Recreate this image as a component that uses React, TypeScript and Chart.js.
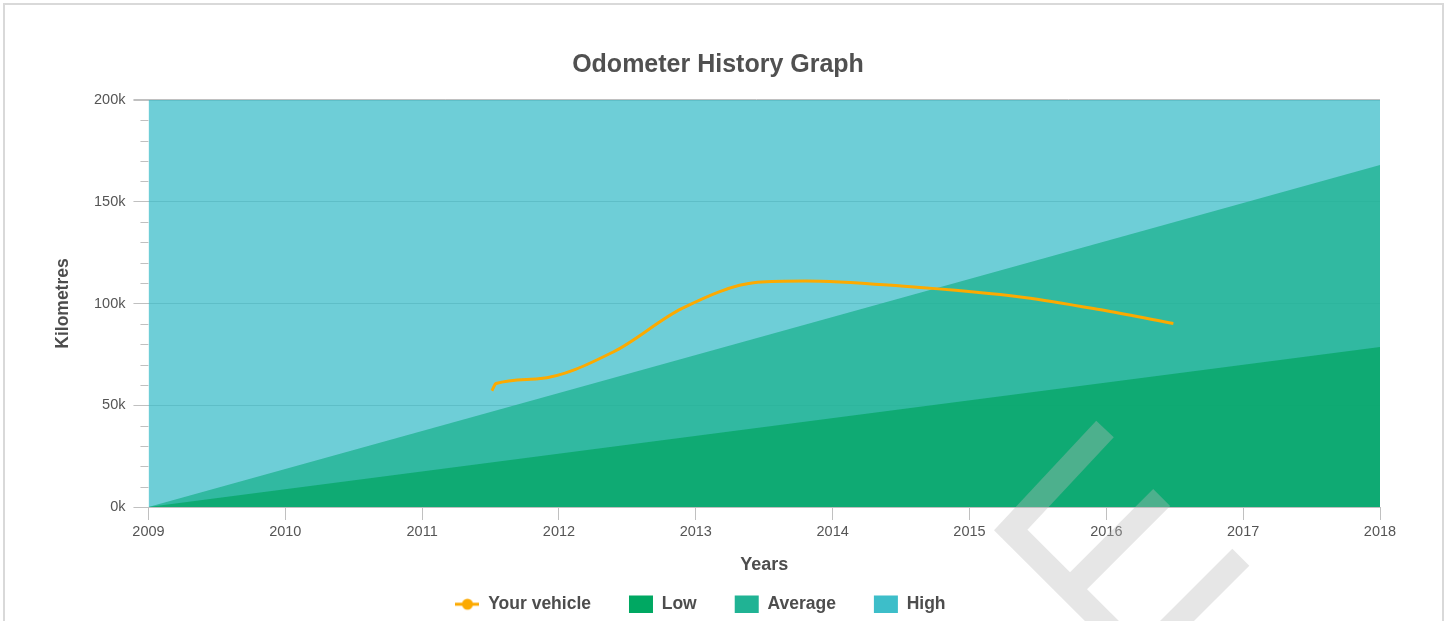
import { useEffect, useRef } from 'react';
import { Chart, registerables } from 'chart.js';

Chart.register(...registerables);

// ---- data ----
const areaYears = [2009, 2018];
const lowKm = [0, 78600];
const averageKm = [0, 168000];
const highKm = [200000, 200000];

const vehicleYears = [2011.51, 2011.54, 2011.85, 2012.4, 2012.9, 2013.45, 2013.8, 2014.5, 2015.4, 2016.0, 2016.49];
const vehicleKm = [57100, 60700, 63000, 76300, 97600, 110400, 111100, 108600, 103000, 96400, 90200];

const yearTicks = [2009, 2010, 2011, 2012, 2013, 2014, 2015, 2016, 2017, 2018];
const kmTicks = [0, 50000, 100000, 150000, 200000];
const kmMinorTicks = [10000, 20000, 30000, 40000, 60000, 70000, 80000, 90000, 110000, 120000, 130000, 140000, 160000, 170000, 180000, 190000];

const seriesNames = ['Your vehicle', 'Low', 'Average', 'High'];
const legendColors = ['#fcaa00', '#00a862', '#20b394', '#3dbec9'];

const FONT = "'Liberation Sans', Arial, sans-serif";

const toPoints = (xs: number[], ys: number[]) => xs.map((x, i) => ({ x, y: ys[i] }));

export default function App() {
  const ref = useRef<HTMLCanvasElement | null>(null);

  useEffect(() => {
    const canvas = ref.current;
    if (!canvas) return;

    const icon = document.createElement('canvas');
    icon.width = 24;
    icon.height = 18;
    const ic = icon.getContext('2d')!;
    ic.strokeStyle = legendColors[0];
    ic.lineWidth = 3;
    ic.beginPath();
    ic.moveTo(0, 9);
    ic.lineTo(24, 9);
    ic.stroke();
    ic.fillStyle = legendColors[0];
    ic.beginPath();
    ic.arc(12, 9, 5.5, 0, Math.PI * 2);
    ic.fill();

    const boxShift = {
      id: 'boxShift',
      afterLayout(chart: any) {
        const lg = chart.legend;
        if (lg) {
          lg.top += -18;
          lg.bottom += -18;
          lg.left += 8;
          lg.right += 8;
        }
        const tt = chart.titleBlock;
        if (tt) {
          tt.left += 25.5;
          tt.right += 25.5;
        }
      },
    };

    const minorTicks = {
      id: 'minorTicks',
      afterDraw(chart: any) {
        const y = chart.scales.y;
        const ctx = chart.ctx;
        const left = chart.chartArea.left;
        ctx.save();
        ctx.strokeStyle = '#c0c0c0';
        ctx.lineWidth = 1;
        ctx.beginPath();
        kmMinorTicks.forEach((v) => {
          const py = Math.round(y.getPixelForValue(v)) + 0.5;
          ctx.moveTo(left - 8, py);
          ctx.lineTo(left, py);
        });
        ctx.stroke();
        // grey frame line along the top of the plot (200k)
        const top = Math.round(chart.chartArea.top) - 0.5;
        ctx.beginPath();
        ctx.moveTo(left - 15, top);
        ctx.lineTo(chart.chartArea.right, top);
        ctx.stroke();
        ctx.restore();
      },
    };

    const watermark = {
      id: 'watermark',
      afterDraw(chart: any) {
        const ctx = chart.ctx;
        ctx.save();
        ctx.strokeStyle = 'rgba(185,185,185,0.36)';
        ctx.lineWidth = 24;
        ctx.lineCap = 'butt';
        ctx.lineJoin = 'miter';
        ctx.beginPath();
        ctx.moveTo(1100, 424);
        ctx.lineTo(1005.7, 525);
        ctx.lineTo(1135, 654);
        ctx.moveTo(1156.7, 492.5);
        ctx.lineTo(1065, 584.3);
        ctx.moveTo(1235.8, 552.2);
        ctx.lineTo(1134.4, 653.6);
        ctx.stroke();
        ctx.restore();
      },
    };

    const chart = new Chart(canvas, {
      type: 'line',
      data: {
        datasets: [
          {
            label: seriesNames[0],
            data: toPoints(vehicleYears, vehicleKm),
            borderColor: legendColors[0],
            borderWidth: 3,
            pointRadius: 0,
            fill: false,
            cubicInterpolationMode: 'monotone',
          },
          {
            label: seriesNames[1],
            data: toPoints(areaYears, lowKm),
            backgroundColor: 'rgba(4,166,100,0.75)',
            borderWidth: 0,
            borderColor: 'rgba(0,0,0,0)',
            pointRadius: 0,
            fill: 'origin',
          },
          {
            label: seriesNames[2],
            data: toPoints(areaYears, averageKm),
            backgroundColor: 'rgba(29,177,143,0.75)',
            borderWidth: 0,
            borderColor: 'rgba(0,0,0,0)',
            pointRadius: 0,
            fill: 'origin',
          },
          {
            label: seriesNames[3],
            data: toPoints(areaYears, highKm),
            backgroundColor: 'rgba(61,190,201,0.75)',
            borderWidth: 0,
            borderColor: 'rgba(0,0,0,0)',
            pointRadius: 0,
            fill: 'origin',
          },
        ],
      },
      options: {
        responsive: false,
        animation: false,
        devicePixelRatio: 1,
        layout: { padding: { left: 0, right: 62, top: 0, bottom: 0 } },
        plugins: {
          tooltip: { enabled: false },
          title: {
            display: true,
            text: 'Odometer History Graph',
            color: '#505050',
            font: { family: FONT, size: 25, weight: 'bold' },
            padding: { top: 45, bottom: 20 },
          },
          legend: {
            display: true,
            position: 'bottom',
            onClick: () => {},
            labels: {
              usePointStyle: true,
              pointStyleWidth: 24,
              boxHeight: 18,
              padding: 38,
              color: '#4d4d4d',
              font: { family: FONT, size: 17.5, weight: 'bold' },
              generateLabels: () =>
                seriesNames.map((name, i) => ({
                  text: name,
                  fillStyle: legendColors[i],
                  strokeStyle: 'rgba(0,0,0,0)',
                  lineWidth: 0,
                  pointStyle: i === 0 ? icon : 'rect',
                  hidden: false,
                  datasetIndex: i,
                  fontColor: '#4d4d4d',
                })),
            },
          },
        },
        scales: {
          x: {
            type: 'linear',
            min: 2009,
            max: 2018,
            z: 1,
            afterBuildTicks: (scale: any) => {
              scale.ticks = yearTicks.map((v) => ({ value: v }));
            },
            ticks: {
              color: '#555',
              font: { family: FONT, size: 14.5 },
              padding: 3,
              autoSkip: false,
              maxRotation: 0,
              callback: (v: any) => String(v),
            },
            grid: {
              display: true,
              drawOnChartArea: false,
              drawTicks: true,
              tickLength: 13,
              tickColor: '#c0c0c0',
            },
            border: { display: true, color: '#c0c0c0', width: 1 },
            title: {
              display: true,
              text: 'Years',
              color: '#4d4d4d',
              font: { family: FONT, size: 18, weight: 'bold' },
              padding: { top: 10.5, bottom: 0 },
            },
          },
          y: {
            type: 'linear',
            min: 0,
            max: 200000,
            afterBuildTicks: (scale: any) => {
              scale.ticks = kmTicks.map((v) => ({ value: v }));
            },
            ticks: {
              color: '#555',
              font: { family: FONT, size: 14.5 },
              padding: 8,
              callback: (v: any) => Number(v) / 1000 + 'k',
            },
            grid: {
              color: '#c0c0c0',
              tickColor: '#c0c0c0',
              tickLength: 15,
              drawTicks: true,
            },
            border: { display: false },
            title: {
              display: true,
              text: 'Kilometres',
              color: '#4d4d4d',
              font: { family: FONT, size: 17.5, weight: 'bold' },
              padding: { top: 47.5, bottom: 12.5 },
            },
          },
        },
      },
      plugins: [boxShift, minorTicks, watermark],
    } as any);

    return () => chart.destroy();
  }, []);

  return (
    <div style={{ position: 'absolute', left: 0, top: 0, width: 1445, height: 621, overflow: 'hidden', background: '#fff' }}>
      <div
        style={{
          position: 'absolute',
          left: 3,
          top: 3,
          width: 1437,
          height: 700,
          border: '2px solid #d9d9d9',
          background: '#fff',
        }}
      >
        <canvas ref={ref} width={1437} height={636} style={{ display: 'block' }} />
      </div>
    </div>
  );
}
